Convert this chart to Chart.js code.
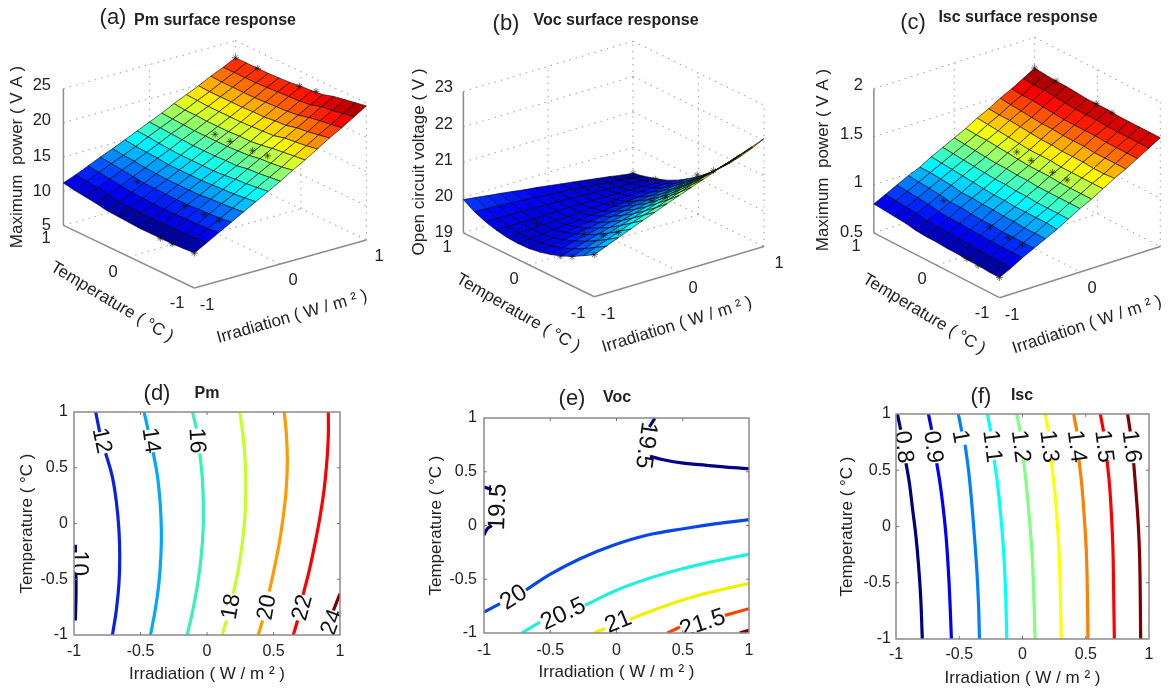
<!DOCTYPE html>
<html>
<head>
<meta charset="utf-8">
<title>Surface response and contour plots</title>
<script src="https://cdn.jsdelivr.net/npm/chart.js@4"></script>
<style>
  html, body { margin: 0; padding: 0; background: #fff; }
  canvas { position: absolute; filter: blur(0.45px); }
</style>
</head>
<body>
<canvas id="a" width="395" height="360" style="left:0;top:0"></canvas>
<canvas id="b" width="390" height="360" style="left:400px;top:0"></canvas>
<canvas id="c" width="383" height="360" style="left:790px;top:0"></canvas>
<canvas id="d" width="395" height="319" style="left:0;top:370px"></canvas>
<canvas id="e" width="390" height="319" style="left:400px;top:370px"></canvas>
<canvas id="f" width="383" height="319" style="left:790px;top:370px"></canvas>
<script>
// grid of the three response surfaces
const tempValues = [1, .833, .667, .5, .333, .167, 0, -.167, -.333, -.5, -.667, -.833, -1];
const irrValues = [-1, -.857, -.714, -.571, -.429, -.286, -.143, 0, .143, .286, .429, .571, .714, .857, 1];

// one row per temperature, one column per irradiation
const pmRows = [
  [11.2,11.9,12.7,13.5,14.2,15.0,15.8,16.6,17.4,18.3,19.1,19.9,20.8,21.6,22.5],
  [10.9,11.7,12.5,13.3,14.0,14.8,15.7,16.5,17.3,18.1,19.0,19.8,20.7,21.6,22.5],
  [10.7,11.5,12.3,13.1,13.9,14.7,15.5,16.4,17.2,18.1,18.9,19.8,20.7,21.6,22.5],
  [10.5,11.3,12.1,12.9,13.7,14.6,15.4,16.3,17.1,18.0,18.9,19.8,20.7,21.6,22.5],
  [10.2,11.0,11.9,12.7,13.6,14.4,15.3,16.2,17.1,18.0,18.9,19.8,20.7,21.7,22.6],
  [10.1,10.9,11.8,12.7,13.5,14.4,15.3,16.2,17.1,18.0,18.9,19.9,20.8,21.8,22.7],
  [10.0,10.9,11.7,12.6,13.5,14.4,15.3,16.2,17.1,18.1,19.0,19.9,20.9,21.9,22.9],
  [9.9,10.8,11.7,12.6,13.5,14.4,15.3,16.3,17.2,18.1,19.1,20.1,21.0,22.0,23.0],
  [9.9,10.8,11.7,12.6,13.5,14.5,15.4,16.3,17.3,18.3,19.2,20.2,21.2,22.2,23.2],
  [9.9,10.8,11.8,12.7,13.7,14.6,15.6,16.6,17.6,18.6,19.6,20.6,21.6,22.7,23.7],
  [9.9,10.9,11.8,12.8,13.8,14.7,15.7,16.7,17.7,18.8,19.8,20.8,21.9,22.9,24.0],
  [10.0,11.0,11.9,12.9,13.9,14.9,15.9,16.9,17.9,19.0,20.0,21.1,22.1,23.2,24.3],
  [10.1,11.1,12.1,13.1,14.1,15.1,16.1,17.1,18.2,19.2,20.3,21.4,22.4,23.5,24.6]
];
const vocRows = [
  [19.94,19.90,19.85,19.81,19.76,19.71,19.67,19.62,19.57,19.52,19.47,19.42,19.37,19.31,19.26],
  [19.75,19.73,19.71,19.69,19.67,19.64,19.61,19.58,19.56,19.52,19.49,19.45,19.42,19.37,19.33],
  [19.62,19.61,19.61,19.60,19.59,19.58,19.57,19.56,19.54,19.52,19.51,19.48,19.47,19.44,19.42],
  [19.53,19.53,19.54,19.54,19.55,19.55,19.56,19.55,19.55,19.55,19.55,19.54,19.54,19.53,19.52],
  [19.47,19.49,19.51,19.52,19.54,19.55,19.57,19.59,19.60,19.62,19.63,19.64,19.65,19.66,19.67],
  [19.45,19.48,19.51,19.54,19.57,19.60,19.64,19.66,19.69,19.72,19.75,19.78,19.80,19.83,19.86],
  [19.46,19.51,19.56,19.61,19.66,19.71,19.76,19.80,19.84,19.89,19.93,19.97,20.01,20.04,20.08],
  [19.51,19.58,19.65,19.72,19.78,19.84,19.91,19.97,20.03,20.08,20.13,20.18,20.24,20.29,20.33],
  [19.59,19.67,19.77,19.85,19.93,20.01,20.09,20.16,20.23,20.30,20.37,20.43,20.50,20.56,20.62],
  [19.70,19.80,19.91,20.01,20.10,20.20,20.29,20.38,20.47,20.55,20.64,20.71,20.79,20.86,20.93],
  [19.84,19.96,20.08,20.19,20.31,20.42,20.52,20.63,20.73,20.83,20.92,21.01,21.10,21.19,21.28],
  [20.01,20.14,20.27,20.40,20.53,20.65,20.76,20.88,21.00,21.11,21.23,21.33,21.44,21.55,21.65],
  [20.19,20.33,20.47,20.61,20.75,20.88,21.02,21.15,21.28,21.41,21.54,21.67,21.80,21.92,22.05]
];
const iscRows = [
  [.80,.86,.92,.98,1.03,1.10,1.16,1.22,1.28,1.35,1.41,1.48,1.54,1.61,1.68],
  [.79,.85,.91,.97,1.03,1.09,1.15,1.21,1.27,1.34,1.40,1.47,1.53,1.60,1.67],
  [.78,.84,.90,.96,1.02,1.08,1.14,1.20,1.27,1.33,1.40,1.46,1.53,1.60,1.66],
  [.77,.83,.89,.95,1.01,1.07,1.13,1.19,1.26,1.32,1.39,1.45,1.52,1.59,1.66],
  [.75,.81,.87,.93,.99,1.06,1.12,1.18,1.25,1.31,1.38,1.44,1.51,1.58,1.65],
  [.74,.80,.86,.93,.99,1.05,1.11,1.18,1.24,1.30,1.37,1.44,1.50,1.57,1.64],
  [.74,.80,.86,.92,.98,1.04,1.11,1.17,1.23,1.30,1.37,1.43,1.50,1.57,1.64],
  [.73,.79,.85,.91,.98,1.04,1.10,1.17,1.23,1.30,1.36,1.43,1.50,1.57,1.64],
  [.73,.79,.85,.91,.97,1.03,1.10,1.16,1.23,1.29,1.36,1.43,1.50,1.56,1.63],
  [.72,.78,.84,.90,.97,1.03,1.09,1.16,1.22,1.29,1.36,1.42,1.49,1.56,1.63],
  [.72,.78,.84,.90,.96,1.03,1.09,1.16,1.22,1.29,1.35,1.42,1.49,1.56,1.63],
  [.71,.78,.84,.90,.96,1.03,1.09,1.16,1.22,1.29,1.35,1.42,1.49,1.56,1.63],
  [.71,.77,.84,.90,.96,1.02,1.09,1.16,1.22,1.29,1.36,1.42,1.49,1.56,1.63]
];

// measured points, the asterisks on the surfaces
const starIrr = [1, 1, 1, 1, .2, .2, .2, .2, -.6, -.6, -.6, -.6, -1, -1, -1];
const starTemp = [1, .66, .02, -.23, .26, .03, -.31, -.54, .4, -.33, -.62, -.85, -.48, -.66, -1];
const pmStars = [22.5, 22.5, 22.8, 23.2, 17.5, 17.5, 17.7, 18, 12.7, 12.5, 12.6, 12.8, 9.9, 9.9, 10.1];
const vocStars = [19.26, 19.4, 20.1, 20.45, 19.66, 19.9, 20.25, 20.55, 19.53, 19.88, 20.12, 20.4, 19.68, 19.83, 20.19];
const iscStars = [1.68, 1.66, 1.64, 1.63, 1.27, 1.26, 1.25, 1.25, .93, .9, .89, .89, .73, .72, .71];

const pmZTicks = [5, 10, 15, 20, 25];
const vocZTicks = [19, 20, 21, 22, 23];
const iscZTicks = [.5, 1, 1.5, 2];

// contour lines as [irradiation, temperature], null is the gap for the label
const pmLevels = ['10', '12', '14', '16', '18', '20', '22', '24'];
const pmCurves = [
  [[-.99,-.19],[-.99,-.26],null,[-.985,-.45],[-.985,-.65],[-.99,-.87]],
  [[-.837,1],[-.807,.82],null,[-.762,.63],[-.712,.42],[-.68,.18],[-.662,-.06],[-.656,-.3],[-.662,-.54],[-.682,-.78],[-.711,-1]],
  [[-.473,1],[-.443,.84],null,[-.405,.64],[-.372,.42],[-.352,.18],[-.343,-.06],[-.347,-.3],[-.362,-.54],[-.39,-.78],[-.425,-1]],
  [[-.109,1],[-.079,.85],null,[-.054,.63],[-.036,.42],[-.027,.18],[-.029,-.06],[-.044,-.3],[-.07,-.54],[-.107,-.78],[-.149,-1]],
  [[.247,1],[.272,.78],[.288,.54],[.292,.3],[.285,.06],[.265,-.18],[.235,-.42],[.197,-.63],null,[.147,-.87],[.114,-1]],
  [[.581,1],[.598,.78],[.604,.54],[.595,.3],[.573,.06],[.543,-.18],[.503,-.42],[.468,-.61],null,[.418,-.87],[.385,-1]],
  [[.912,1],[.912,.78],[.9,.54],[.88,.3],[.85,.06],[.812,-.18],[.769,-.42],[.722,-.64],null,[.681,-.87],[.649,-1]],
  [[1,-.63],[.95,-.78],null,[.912,-.985]]
];
const vocLevels = ['19.5', '19.5', '20', '20.5', '21', '21.5', '22'];
const vocCurves = [
  [[.29,1],[.248,.916],null,[.253,.643],[.353,.612],[.504,.581],[.68,.56],[.882,.538],[1,.529]],
  [[-1,.358],[-.942,.333],null,[-.942,.002],[-.98,-.039],[-1,-.09]],
  [[-1,-.805],[-.879,-.727],null,[-.683,-.6],[-.502,-.455],[-.275,-.309],[-.024,-.184],[.228,-.091],[.504,-.03],[.756,.017],[1,.054]],
  [[-.716,-1],[-.577,-.898],null,[-.238,-.743],[0,-.603],[.253,-.489],[.504,-.4],[.756,-.328],[1,-.268]],
  [[-.17,-1],[-.087,-.96],null,[.102,-.872],[.328,-.765],[.555,-.672],[.781,-.6],[1,-.541]],
  [[.384,-1],[.479,-.944],null,[.819,-.836],[1,-.774]],
  [[.93,-1],[1,-.975]]
];
const iscLevels = ['0.8', '0.9', '1', '1.1', '1.2', '1.3', '1.4', '1.5', '1.6'];
const iscCurves = [
  [[-.989,1],[-.963,.86],null,[-.921,.563],[-.894,.385],[-.868,.147],[-.842,-.091],[-.823,-.328],[-.805,-.626],[-.792,-1]],
  [[-.744,1],[-.718,.86],null,[-.678,.563],[-.652,.385],[-.625,.147],[-.604,-.091],[-.586,-.388],[-.573,-.685],[-.562,-1]],
  [[-.507,1],[-.48,.845],null,[-.454,.727],[-.427,.504],[-.401,.207],[-.38,-.091],[-.361,-.388],[-.348,-.685],[-.34,-1]],
  [[-.277,1],[-.251,.845],null,[-.224,.593],[-.198,.385],[-.171,.088],[-.15,-.21],[-.135,-.536],[-.124,-1]],
  [[-.045,1],[-.018,.845],null,[.008,.593],[.029,.385],[.053,.088],[.074,-.21],[.087,-.536],[.1,-1]],
  [[.179,1],[.206,.845],null,[.227,.593],[.251,.355],[.272,.088],[.288,-.21],[.298,-.536],[.306,-1]],
  [[.404,1],[.43,.845],null,[.446,.593],[.47,.355],[.488,.088],[.504,-.21],[.512,-.536],[.517,-1]],
  [[.615,1],[.641,.845],null,[.668,.593],[.689,.355],[.704,.088],[.715,-.21],[.72,-.536],[.726,-1]],
  [[.831,1],[.852,.845],null,[.879,.563],[.9,.266],[.916,0],[.926,-.269],[.931,-.626],[.934,-1]]
];

const FONT = '"Liberation Sans", Arial, sans-serif';
const TEXT = '#222';

function jet(v) {
  const t = Math.max(0, Math.min(1, v));
  const ch = (c) => Math.round(255 * Math.max(0, Math.min(1, 1.5 - Math.abs(4 * t - c))));
  return `rgb(${ch(3)},${ch(2)},${ch(1)})`;
}

// draws text given in canvas pixels
const panelText = {
  id: 'panelText',
  afterDraw(chart, args, opts) {
    const ctx = chart.ctx;
    for (const t of opts.items || []) {
      ctx.save();
      ctx.translate(t.x, t.y);
      ctx.rotate((t.rot || 0) * Math.PI / 180);
      ctx.font = t.font;
      ctx.fillStyle = TEXT;
      ctx.textAlign = t.align || 'center';
      ctx.textBaseline = 'middle';
      ctx.fillText(t.text, 0, 0);
      ctx.restore();
    }
  }
};

// inline contour labels, placed through the scales; also frame and inward ticks
const contourExtras = {
  id: 'contourExtras',
  afterDatasetsDraw(chart, args, opts) {
    const { ctx, chartArea: a, scales } = chart;
    ctx.save();
    ctx.beginPath();
    ctx.rect(a.left, a.top, a.right - a.left, a.bottom - a.top);
    ctx.clip();
    for (const l of opts.labels || []) {
      ctx.save();
      ctx.translate(scales.x.getPixelForValue(l.x), scales.y.getPixelForValue(l.y));
      ctx.rotate(l.rot * Math.PI / 180);
      ctx.font = opts.labelSize + 'px ' + FONT;
      ctx.fillStyle = '#111';
      ctx.textAlign = 'center';
      ctx.textBaseline = 'middle';
      ctx.fillText(l.text, 0, 0);
      ctx.restore();
    }
    ctx.restore();
    ctx.strokeStyle = '#8a8a8a';
    ctx.lineWidth = 1.5;
    ctx.strokeRect(a.left, a.top, a.right - a.left, a.bottom - a.top);
    ctx.lineWidth = 1;
    ctx.strokeStyle = '#777';
    ctx.beginPath();
    for (const v of [-.5, 0, .5]) {
      const px = scales.x.getPixelForValue(v), py = scales.y.getPixelForValue(v);
      ctx.moveTo(px, a.bottom); ctx.lineTo(px, a.bottom - 3);
      ctx.moveTo(px, a.top); ctx.lineTo(px, a.top + 3);
      ctx.moveTo(a.left, py); ctx.lineTo(a.left + 3, py);
      ctx.moveTo(a.right, py); ctx.lineTo(a.right - 3, py);
    }
    ctx.stroke();
  }
};

function surfaceChart(id, cfg) {
  const canvas = document.getElementById(id);
  const { front, left, right, height, zTicks, rows, clim, stars } = cfg;
  const zMin = zTicks[0], zMax = zTicks[zTicks.length - 1];
  const project = (t, i, z) => {
    const tt = (t + 1) / 2, ii = (i + 1) / 2;
    return {
      x: front[0] + tt * (left[0] - front[0]) + ii * (right[0] - front[0]),
      y: front[1] + tt * (left[1] - front[1]) + ii * (right[1] - front[1]) - (z - zMin) / (zMax - zMin) * height
    };
  };
  const line = (a, b, solid) => ({
    data: [project(...a), project(...b)],
    showLine: true, pointRadius: 0, fill: false,
    borderColor: solid ? '#8c8c8c' : '#a8a8a8',
    borderWidth: solid ? 1.5 : 1.1,
    borderDash: solid ? [] : [1.5, 5]
  });

  // listed in paint order, reversed below because Chart.js paints the last dataset first
  const sets = [];
  for (const z of zTicks) {
    sets.push(line([1, -1, z], [1, 1, z]));
    sets.push(line([1, 1, z], [-1, 1, z]));
  }
  sets.push(line([1, 0, zMin], [1, 0, zMax]));
  sets.push(line([0, 1, zMin], [0, 1, zMax]));
  sets.push(line([1, 1, zMin], [1, 1, zMax]));
  sets.push(line([-1, 1, zMin], [-1, 1, zMax]));
  sets.push(line([0, -1, zMin], [0, 1, zMin]));
  sets.push(line([1, 0, zMin], [-1, 0, zMin]));
  sets.push(line([1, -1, zMin], [1, -1, zMax], true));
  sets.push(line([1, -1, zMin], [-1, -1, zMin], true));
  sets.push(line([-1, -1, zMin], [-1, 1, zMin], true));

  // far cells first so that nearer ones cover them
  for (let r = 0; r < tempValues.length - 1; r++) {
    for (let c = irrValues.length - 2; c >= 0; c--) {
      const corners = [[r, c], [r, c + 1], [r + 1, c + 1], [r + 1, c], [r, c]];
      const mean = (rows[r][c] + rows[r][c + 1] + rows[r + 1][c] + rows[r + 1][c + 1]) / 4;
      sets.push({
        data: corners.map(([a, b]) => project(tempValues[a], irrValues[b], rows[a][b])),
        showLine: true, pointRadius: 0, tension: 0,
        fill: 'shape',
        backgroundColor: jet((mean - clim[0]) / (clim[1] - clim[0])),
        borderColor: 'rgba(0,0,0,0.75)',
        borderWidth: 0.8
      });
    }
  }
  sets.push({
    data: stars.map((z, k) => project(starTemp[k], starIrr[k], z)),
    showLine: false, pointStyle: 'star', pointRadius: 3.5,
    borderColor: 'rgba(20,20,20,0.65)', borderWidth: 0.9, backgroundColor: 'transparent', clip: false
  });

  return new Chart(canvas, {
    type: 'scatter',
    data: { datasets: sets.reverse() },
    plugins: [panelText],
    options: {
      responsive: false, animation: false, events: [],
      layout: { padding: 0 },
      scales: {
        x: { type: 'linear', display: false, min: 0, max: canvas.width },
        y: { type: 'linear', display: false, min: 0, max: canvas.height, reverse: true }
      },
      plugins: { legend: { display: false }, tooltip: { enabled: false }, panelText: { items: cfg.text } }
    }
  });
}

function contourChart(id, cfg) {
  const canvas = document.getElementById(id);
  const sets = cfg.curves.map((pts, k) => ({
    data: pts.map((p) => (p ? { x: p[0], y: p[1] } : { x: NaN, y: NaN })),
    showLine: true, pointRadius: 0, tension: 0.4, spanGaps: false,
    borderColor: cfg.colors[k], borderWidth: 3.2, borderCapStyle: 'butt'
  }));
  const axisTitle = (text, padding) => ({ display: true, text, color: TEXT, padding, font: { family: FONT, size: 17 } });
  const ticks = (padding) => ({
    stepSize: .5, padding, color: TEXT, maxRotation: 0, autoSkip: false,
    font: { family: FONT, size: 16 },
    callback: (value) => String(value)
  });
  return new Chart(canvas, {
    type: 'scatter',
    data: { datasets: sets },
    plugins: [contourExtras, panelText],
    options: {
      responsive: false, animation: false, events: [],
      layout: { padding: { top: cfg.plot.top, right: cfg.plot.right, left: 0, bottom: 0 } },
      scales: {
        x: {
          type: 'linear', min: -1, max: 1,
          grid: { display: false, drawTicks: false }, border: { display: false },
          ticks: ticks(cfg.tickPad[0]),
          title: axisTitle('Irradiation ( W / m ² )', { bottom: cfg.titlePad[0] }),
          afterFit: (s) => { s.height = cfg.plot.bottom; }
        },
        y: {
          type: 'linear', min: -1, max: 1,
          grid: { display: false, drawTicks: false }, border: { display: false },
          ticks: ticks(cfg.tickPad[1]),
          title: axisTitle('Temperature ( °C )', { top: cfg.titlePad[1] }),
          afterFit: (s) => { s.width = cfg.plot.left; }
        }
      },
      plugins: {
        legend: { display: false }, tooltip: { enabled: false },
        panelText: { items: cfg.text },
        contourExtras: { labels: cfg.labels, labelSize: cfg.labelSize }
      }
    }
  });
}

const tagFont = '22px ' + FONT;
const titleFont = 'bold 16px ' + FONT;
const axisFont = '17px ' + FONT;
const tickFont = '16.5px ' + FONT;
const irrTitle = 'Irradiation ( W / m ² )';
const tempTitle = 'Temperature ( °C )';
const tick = (text, x, y) => ({ text, x, y, font: tickFont });
const zTick = (text, x, y) => ({ text, x, y, font: tickFont, align: 'right' });

surfaceChart('a', {
  front: [194.3, 291], left: [60, 226.7], right: [370.7, 241.7], height: 140.7,
  zTicks: pmZTicks, rows: pmRows, clim: [9.9, 24.6], stars: pmStars,
  text: [
    { text: '(a)', x: 113, y: 18, font: tagFont },
    { text: 'Pm surface response', x: 215, y: 21, font: titleFont },
    zTick('25', 51, 85), zTick('20', 51, 120), zTick('15', 51, 156), zTick('10', 51, 191), zTick('5', 51, 225),
    tick('1', 46, 238), tick('0', 113, 272), tick('-1', 177, 303),
    tick('-1', 207, 305), tick('0', 293, 280), tick('1', 379, 256),
    { text: 'Maximum  power ( V A )', x: 17, y: 157, rot: -90, font: axisFont },
    { text: tempTitle, x: 112, y: 302, rot: 31, font: axisFont },
    { text: irrTitle, x: 292, y: 317, rot: -16, font: axisFont }
  ]
});

surfaceChart('b', {
  front: [194.3, 300], left: [60, 234.3], right: [368.3, 248.3], height: 145.3,
  zTicks: vocZTicks, rows: vocRows, clim: [19.2, 22.8], stars: vocStars,
  text: [
    { text: '(b)', x: 106, y: 24, font: tagFont },
    { text: 'Voc surface response', x: 216, y: 21, font: titleFont },
    zTick('23', 53, 87), zTick('22', 53, 124), zTick('21', 53, 160), zTick('20', 53, 196), zTick('19', 53, 232),
    tick('1', 47, 247), tick('0', 114, 279), tick('-1', 178, 313),
    tick('-1', 208, 314), tick('0', 293, 288), tick('1', 379, 263),
    { text: 'Open circuit voltage ( V )', x: 19, y: 162, rot: -90, font: axisFont },
    { text: tempTitle, x: 118, y: 313, rot: 30, font: axisFont },
    { text: irrTitle, x: 277, y: 325, rot: -17, font: axisFont }
  ]
});

surfaceChart('c', {
  front: [210, 301], left: [81, 234.3], right: [375, 248.3], height: 148.3,
  zTicks: iscZTicks, rows: iscRows, clim: [.71, 1.68], stars: iscStars,
  text: [
    { text: '(c)', x: 123, y: 23, font: tagFont },
    { text: 'Isc surface response', x: 228, y: 18, font: titleFont },
    zTick('2', 73, 85), zTick('1.5', 73, 134), zTick('1', 73, 182), zTick('0.5', 73, 232),
    tick('1', 66, 246), tick('0', 132, 279), tick('-1', 192, 313),
    tick('-1', 222, 315), tick('0', 302, 288),
    { text: 'Maximum  power ( V A )', x: 33, y: 160, rot: -90, font: axisFont },
    { text: tempTitle, x: 134, y: 314, rot: 31, font: axisFont },
    { text: irrTitle, x: 297, y: 325, rot: -18, font: axisFont }
  ]
});

contourChart('d', {
  curves: pmCurves, labelSize: 23,
  colors: ['#000085', '#0a20e6', '#00a8ff', '#38f0b8', '#c4ff28', '#ff9a00', '#ff0000', '#7d0000'],
  plot: { left: 74, right: 55, top: 42, bottom: 54 },
  tickPad: [7, 6], titlePad: [4, 17],
  labels: [
    { text: pmLevels[0], x: -.97, y: -.357, rot: 90 },
    { text: pmLevels[1], x: -.794, y: .743, rot: 78 },
    { text: pmLevels[2], x: -.425, y: .743, rot: 82 },
    { text: pmLevels[3], x: -.079, y: .743, rot: 87 },
    { text: pmLevels[4], x: .184, y: -.746, rot: -80 },
    { text: pmLevels[5], x: .453, y: -.752, rot: -80 },
    { text: pmLevels[6], x: .719, y: -.755, rot: -75 },
    { text: pmLevels[7], x: .942, y: -.886, rot: -70 }
  ],
  text: [
    { text: '(d)', x: 157, y: 24, font: tagFont },
    { text: 'Pm', x: 207, y: 24, font: titleFont }
  ]
});

contourChart('e', {
  curves: vocCurves, labelSize: 24,
  colors: ['#000088', '#000088', '#0a46e6', '#20f0e0', '#f0f000', '#ff4400', '#800000'],
  plot: { left: 84, right: 41, top: 48, bottom: 56 },
  tickPad: [8, 7], titlePad: [6, 26],
  labels: [
    { text: vocLevels[0], x: .22, y: .746, rot: 98 },
    { text: vocLevels[1], x: -.892, y: .172, rot: -88 },
    { text: vocLevels[2], x: -.774, y: -.671, rot: -33 },
    { text: vocLevels[3], x: -.401, y: -.826, rot: -25 },
    { text: vocLevels[4], x: .014, y: -.898, rot: -22 },
    { text: vocLevels[5], x: .65, y: -.913, rot: -18 }
  ],
  text: [
    { text: '(e)', x: 172, y: 29, font: tagFont },
    { text: 'Voc', x: 217, y: 28, font: titleFont }
  ]
});

contourChart('f', {
  curves: iscCurves, labelSize: 23.5,
  colors: ['#000080', '#0000ff', '#0080ff', '#00ffff', '#80ff80', '#ffff00', '#ff8000', '#ff0000', '#800000'],
  plot: { left: 106, right: 24, top: 44, bottom: 50 },
  tickPad: [6, 5], titlePad: [0, 47],
  labels: [
    { text: iscLevels[0], x: -.942, y: .706, rot: 83 },
    { text: iscLevels[1], x: -.71, y: .706, rot: 83 },
    { text: iscLevels[2], x: -.493, y: .8, rot: 80 },
    { text: iscLevels[3], x: -.243, y: .712, rot: 83 },
    { text: iscLevels[4], x: -.018, y: .712, rot: 83 },
    { text: iscLevels[5], x: .206, y: .712, rot: 83 },
    { text: iscLevels[6], x: .425, y: .712, rot: 83 },
    { text: iscLevels[7], x: .641, y: .712, rot: 83 },
    { text: iscLevels[8], x: .858, y: .712, rot: 83 }
  ],
  text: [
    { text: '(f)', x: 191, y: 27, font: tagFont },
    { text: 'Isc', x: 232, y: 26, font: titleFont }
  ]
});
</script>
</body>
</html>
